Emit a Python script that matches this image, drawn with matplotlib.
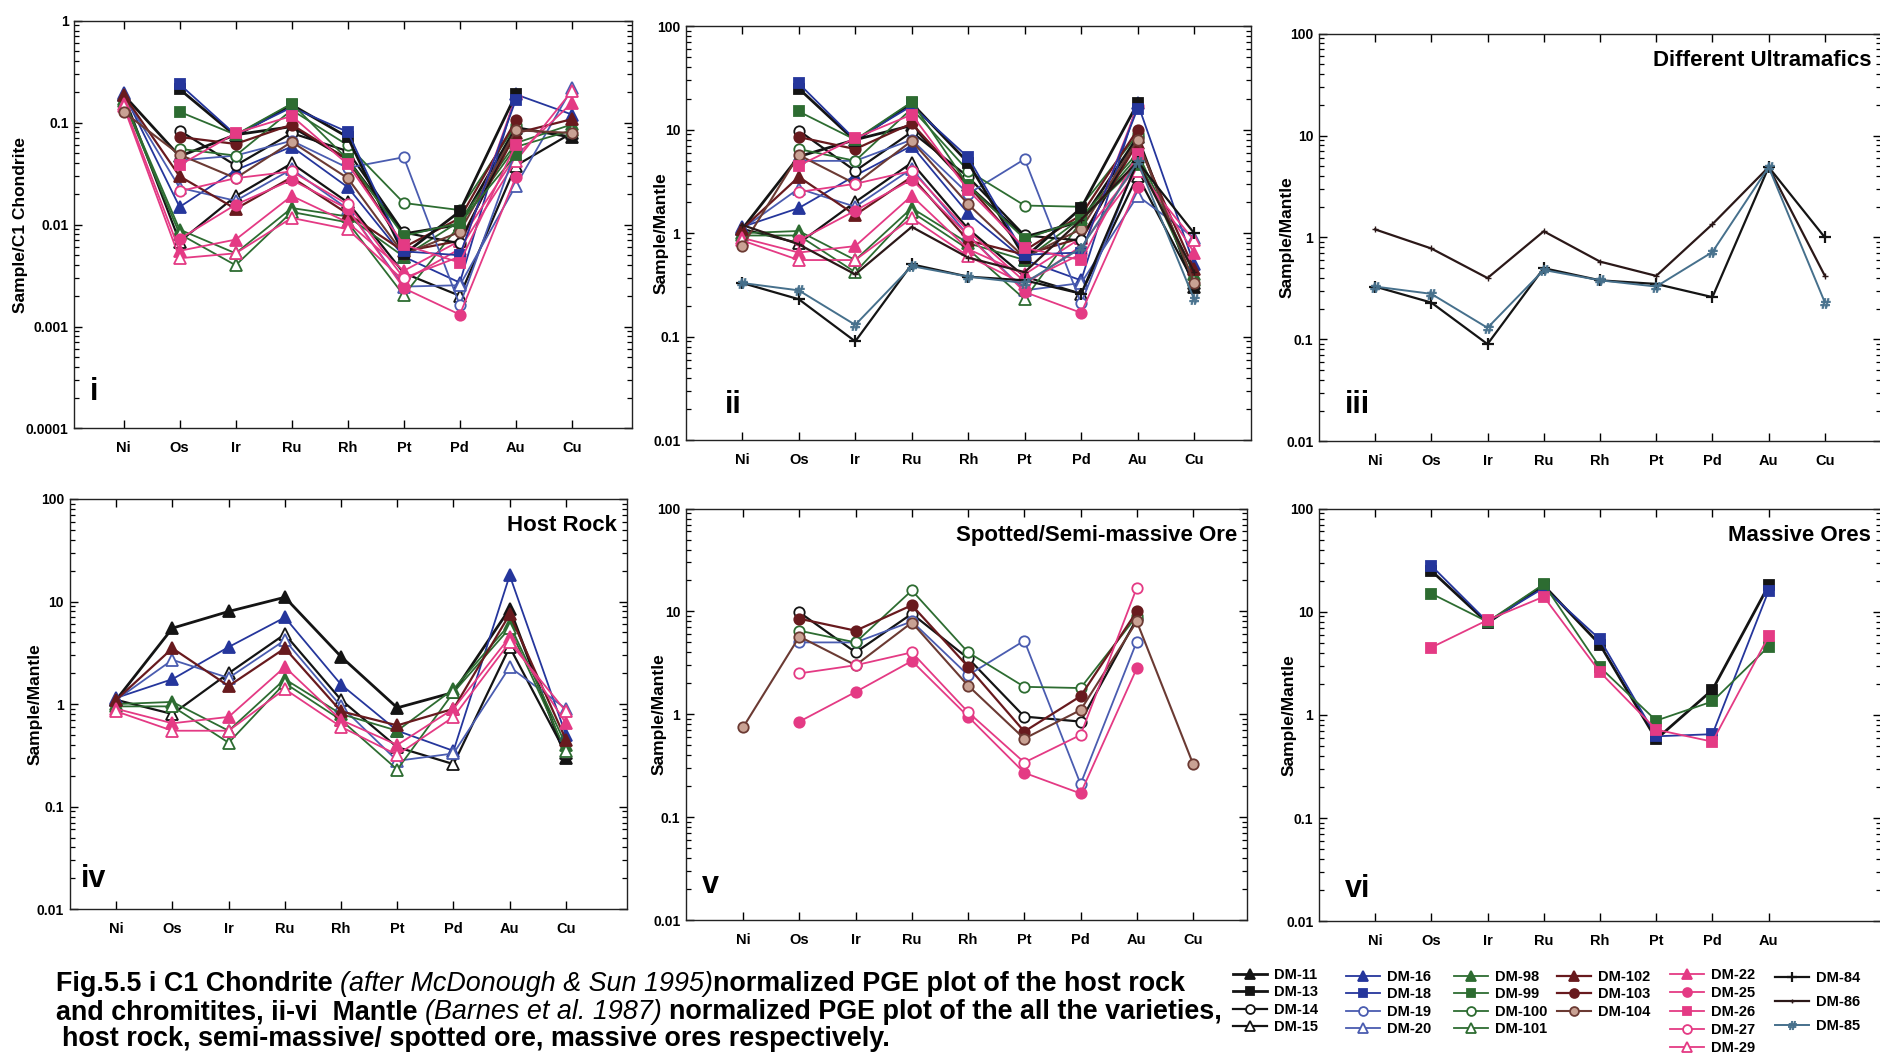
import numpy as np
import matplotlib
matplotlib.use("Agg")
import matplotlib.pyplot as plt
from matplotlib import font_manager
from matplotlib.ticker import FixedLocator, LogLocator, NullFormatter, FuncFormatter

plt.rcParams['font.family'] = ['Liberation Sans', 'DejaVu Sans']
plt.rcParams['font.weight'] = 'bold'

# ---------------- data (Sample/Mantle, Barnes et al. 1987) ----------------
elements = ['Ni', 'Os', 'Ir', 'Ru', 'Rh', 'Pt', 'Pd', 'Au', 'Cu']
n = np.nan

# host rock (triangles)
dm11 = [1.10, 5.5, 8.0, 11.0, 2.9, 0.92, 1.30, 8.5, 0.30]
dm15 = [1.10, 0.80, 2.0, 4.8, 1.10, 0.38, 0.26, 3.6, 0.33]
dm16 = [1.15, 1.75, 3.6, 7.0, 1.55, 0.55, 0.35, 18.0, 0.50]
dm20 = [1.10, 2.7, 1.8, 4.2, 0.95, 0.28, 0.33, 2.3, 0.90]
dm98 = [1.00, 1.05, 0.55, 1.75, 0.80, 0.55, 1.40, 6.0, 0.40]
dm101 = [0.95, 0.95, 0.42, 1.6, 0.70, 0.23, 1.30, 5.5, 0.35]
dm102 = [1.10, 3.5, 1.5, 3.5, 0.85, 0.62, 0.90, 7.5, 0.45]
dm22 = [0.90, 0.65, 0.75, 2.3, 0.70, 0.40, 0.90, 4.5, 0.65]
dm29 = [0.85, 0.55, 0.55, 1.4, 0.60, 0.32, 0.75, 4.0, 0.85]

# spotted / semi-massive ore (circles)
dm14 = [n, 9.8, 4.0, 9.5, 3.5, 0.95, 0.85, 8.5, n]
dm19 = [n, 5.0, 5.0, 8.0, 2.4, 5.2, 0.21, 5.1, n]
dm100 = [n, 6.5, 5.0, 16.0, 4.0, 1.85, 1.80, 9.0, n]
dm103 = [n, 8.5, 6.5, 11.5, 2.9, 0.68, 1.50, 10.0, n]
dm104 = [0.75, 5.7, 3.0, 7.8, 1.9, 0.58, 1.10, 8.0, 0.33]
dm25 = [n, 0.85, 1.65, 3.3, 0.95, 0.27, 0.17, 2.8, n]
dm27 = [n, 2.5, 3.0, 4.0, 1.05, 0.34, 0.63, 17.0, n]

# massive ores (squares)
dm13 = [n, 25.0, 7.8, 18.0, 4.8, 0.58, 1.75, 18.0, n]
dm18 = [n, 28.0, 8.0, 17.0, 5.4, 0.62, 0.65, 16.0, n]
dm99 = [n, 15.0, 8.0, 18.5, 2.9, 0.88, 1.35, 4.6, n]
dm26 = [n, 4.5, 8.3, 14.0, 2.6, 0.72, 0.55, 5.8, n]

# different ultramafics
dm84 = [0.33, 0.23, 0.09, 0.50, 0.38, 0.35, 0.26, 4.9, 1.00]
dm86 = [1.20, 0.78, 0.40, 1.15, 0.58, 0.42, 1.35, 4.9, 0.42]
dm85 = [0.33, 0.28, 0.13, 0.48, 0.38, 0.33, 0.72, 4.9, 0.23]

# mantle / C1 chondrite ratio per element (read from panels i vs ii)
mantle_to_c1 = [0.17, 0.0085, 0.0095, 0.0083, 0.015, 0.0088, 0.0077, 0.0105, 0.24]

data = {
    'DM-11': dm11, 'DM-13': dm13, 'DM-14': dm14, 'DM-15': dm15,
    'DM-16': dm16, 'DM-18': dm18, 'DM-19': dm19, 'DM-20': dm20,
    'DM-98': dm98, 'DM-99': dm99, 'DM-100': dm100, 'DM-101': dm101,
    'DM-102': dm102, 'DM-103': dm103, 'DM-104': dm104,
    'DM-22': dm22, 'DM-25': dm25, 'DM-26': dm26, 'DM-27': dm27, 'DM-29': dm29,
    'DM-84': dm84, 'DM-86': dm86, 'DM-85': dm85,
}

host = ['DM-11', 'DM-15', 'DM-16', 'DM-20', 'DM-98', 'DM-101', 'DM-102', 'DM-22', 'DM-29']
spotted = ['DM-14', 'DM-19', 'DM-100', 'DM-103', 'DM-104', 'DM-25', 'DM-27']
massive = ['DM-13', 'DM-18', 'DM-99', 'DM-26']
ultra = ['DM-84', 'DM-86', 'DM-85']

legend_cols = [
    ['DM-11', 'DM-13', 'DM-14', 'DM-15'],
    ['DM-16', 'DM-18', 'DM-19', 'DM-20'],
    ['DM-98', 'DM-99', 'DM-100', 'DM-101'],
    ['DM-102', 'DM-103', 'DM-104'],
    ['DM-22', 'DM-25', 'DM-26', 'DM-27', 'DM-29'],
    ['DM-84', 'DM-86', 'DM-85'],
]

# ---------------- styles ----------------
BLK = '#141414'
BLU = '#25369c'
BLU2 = '#4a5cb0'
GRN = '#2d6c31'
MAR = '#681a1e'
TANE = '#6b3a33'
TANF = '#c9a294'
PNK = '#e43a84'


def sty(c, m, filled, face=None, lw=1.3, ms=7.5, mew=1.3):
    if face is None:
        face = c if filled else 'white'
    return dict(color=c, marker=m, mfc=face, mec=c, lw=lw, ms=ms, mew=mew)


styles = {
    'DM-11': sty(BLK, '^', True, lw=2.0, ms=8.5),
    'DM-13': sty(BLK, 's', True, lw=2.0, ms=7),
    'DM-14': sty(BLK, 'o', False, lw=1.6),
    'DM-15': sty(BLK, '^', False, lw=1.6, ms=8.5),
    'DM-16': sty(BLU, '^', True, ms=8.5, lw=1.3),
    'DM-18': sty(BLU, 's', True, ms=7),
    'DM-19': sty(BLU2, 'o', False),
    'DM-20': sty(BLU2, '^', False, ms=8.5),
    'DM-98': sty(GRN, '^', True, ms=8.5),
    'DM-99': sty(GRN, 's', True, ms=7),
    'DM-100': sty(GRN, 'o', False),
    'DM-101': sty(GRN, '^', False, ms=8.5),
    'DM-102': sty(MAR, '^', True, ms=8.5, lw=1.6),
    'DM-103': sty(MAR, 'o', True, lw=1.6),
    'DM-104': sty(TANE, 'o', True, face=TANF, lw=1.5),
    'DM-22': sty(PNK, '^', True, ms=8.5),
    'DM-25': sty(PNK, 'o', True),
    'DM-26': sty(PNK, 's', True, ms=7),
    'DM-27': sty(PNK, 'o', False),
    'DM-29': sty(PNK, '^', False, ms=8.5),
    'DM-84': sty(BLK, '+', True, lw=1.6, ms=8, mew=1.6),
    'DM-86': sty('#2b1818', '+', True, lw=1.6, ms=4, mew=1.0),
    'DM-85': sty('#46708c', '$\\#$', True, lw=1.4, ms=7, mew=0.6),
}

# ---------------- figure ----------------
W, H = 1880, 1058
fig = plt.figure(figsize=(W / 100, H / 100), dpi=100)
fig.patch.set_facecolor('white')

panels = {
    'i':   dict(rect=[0.0395, 0.595, 0.2966, 0.3855], xlim=(-0.88, 9.07), ylim=(1e-4, 1),
                ylabel='Sample/C1 Chondrite', ylx=-0.083, names=host + spotted + massive, c1=True,
                title=None, rn=(0.028, 0.09)),
    'ii':  dict(rect=[0.3648, 0.584, 0.3004, 0.3912], xlim=(-1.0, 9.0), ylim=(0.01, 100),
                ylabel='Sample/Mantle', ylx=-0.03, names=host + spotted + massive + ultra, c1=False,
                title=None, rn=(0.07, 0.085)),
    'iii': dict(rect=[0.7015, 0.5828, 0.2991, 0.3855], xlim=(-1.0, 9.0), ylim=(0.01, 100),
                ylabel='Sample/Mantle', ylx=-0.043, names=ultra, c1=False,
                title='Different Ultramafics', rn=(0.047, 0.09)),
    'iv':  dict(rect=[0.037, 0.1406, 0.2966, 0.3878], xlim=(-0.83, 9.09), ylim=(0.01, 100),
                ylabel='Sample/Mantle', ylx=-0.049, names=host, c1=False,
                title='Host Rock', rn=(0.02, 0.073)),
    'v':   dict(rect=[0.3648, 0.1304, 0.2985, 0.3889], xlim=(-1.02, 8.96), ylim=(0.01, 100),
                ylabel='Sample/Mantle', ylx=-0.034, names=spotted, c1=False,
                title='Spotted/Semi-massive Ore', rn=(0.028, 0.085)),
    'vi':  dict(rect=[0.7015, 0.1293, 0.2991, 0.39], xlim=(-1.0, 9.0), ylim=(0.01, 100),
                ylabel='Sample/Mantle', ylx=-0.039, names=massive, c1=False,
                title='Massive Ores', rn=(0.047, 0.078)),
}

handles = {}
for key, p in panels.items():
    ax = fig.add_axes(p['rect'])
    ax.set_yscale('log')
    for nm in p['names']:
        vals = np.array(data[nm], dtype=float)
        if p['c1']:
            vals = vals * np.array(mantle_to_c1)
        st = styles[nm]
        h, = ax.plot(elements, vals, color=st['color'], marker=st['marker'],
                     markerfacecolor=st['mfc'], markeredgecolor=st['mec'],
                     markersize=st['ms'], markeredgewidth=st['mew'], lw=st['lw'],
                     label=nm, clip_on=False)
        if key == 'ii':
            handles[nm] = h
    ax.set_xlim(*p['xlim'])
    ax.set_ylim(*p['ylim'])
    if key == 'vi':
        ax.set_xticks(range(8))
    lo, hi = p['ylim']
    decades = [10.0 ** k for k in range(int(round(np.log10(lo))), int(round(np.log10(hi))) + 1)]
    ax.yaxis.set_major_locator(FixedLocator(decades))
    ax.yaxis.set_major_formatter(FuncFormatter(lambda v, pos: f'{v:g}'))
    ax.yaxis.set_minor_locator(LogLocator(base=10, subs=np.arange(2, 10), numticks=30))
    ax.yaxis.set_minor_formatter(NullFormatter())
    ax.tick_params(axis='x', which='both', direction='in', top=True, bottom=True,
                   length=6, width=1.0, pad=9, labelsize=10.5)
    ax.tick_params(axis='y', which='major', direction='in', left=True, right=True,
                   length=6, width=1.0, pad=4, labelsize=10)
    ax.tick_params(axis='y', which='minor', direction='in', left=True, right=True,
                   length=3.5, width=0.9)
    for lab in ax.get_xticklabels() + ax.get_yticklabels():
        lab.set_fontweight('bold')
    for s in ax.spines.values():
        s.set_linewidth(1.0)
        s.set_color('#222222')
    ax.set_ylabel(p['ylabel'], fontsize=12.5, fontweight='bold')
    ax.yaxis.set_label_coords(p['ylx'], 0.5)
    ax.text(p['rn'][0], p['rn'][1], key, transform=ax.transAxes, fontsize=22,
            fontweight='bold', ha='left', va='center')
    if p['title']:
        ax.text(0.982, 0.935, p['title'], transform=ax.transAxes, fontsize=16,
                fontweight='bold', ha='right', va='center')

# ---------------- legend (six column blocks) ----------------
leg_x = [1233, 1346, 1454, 1557, 1670, 1775]
leg_top = [968, 970, 970, 970, 968, 971]
leg_spacing = [0.23, 0.23, 0.23, 0.23, 0.30, 0.68]
for col, x, yt, sp in zip(legend_cols, leg_x, leg_top, leg_spacing):
    fig.legend([handles[nm] for nm in col], col, loc='upper left',
               bbox_to_anchor=(x / W, (H - yt) / H), bbox_transform=fig.transFigure,
               frameon=False, borderpad=0, borderaxespad=0, handlelength=2.3,
               handletextpad=0.5, labelspacing=sp, markerscale=0.85,
               prop=dict(size=10.5, weight='bold'))

# ---------------- caption with mixed styles ----------------
renderer = fig.canvas.get_renderer()
installed = {f.name for f in font_manager.fontManager.ttflist}
cap_family = ['Liberation Sans Narrow'] if 'Liberation Sans Narrow' in installed else ['Liberation Sans']
cap_family = cap_family + ['DejaVu Sans']


def text_width(s, size, weight, style):
    t = fig.text(0, 0, s, fontsize=size, fontweight=weight, fontstyle=style, family=cap_family)
    w = t.get_window_extent(renderer).width
    t.remove()
    return w


def space_width(size, weight, style):
    return text_width('a a', size, weight, style) - text_width('aa', size, weight, style)


cap_lines = [
    (56, 991, 1223, [('Fig.5.5 i C1 Chondrite', 'bold', 'normal', True),
                     ('(after McDonough & Sun 1995)', 'normal', 'italic', False),
                     ('normalized PGE plot of the host rock', 'bold', 'normal', False)]),
    (56, 1019, 1221, [('and chromitites, ii-vi  Mantle', 'bold', 'normal', True),
                      ('(Barnes et al. 1987)', 'normal', 'italic', True),
                      ('normalized PGE plot of the all the varieties,', 'bold', 'normal', False)]),
    (62, 1046, 893, [('host rock, semi-massive/ spotted ore, massive ores respectively.', 'bold', 'normal', False)]),
]


def line_width(segs, size):
    w = 0
    for s, wt, st, sp in segs:
        w += text_width(s, size, wt, st)
        if sp:
            w += space_width(size, wt, st)
    return w


base = 16.0
sizes = [base * (x1 - x0) / line_width(segs, base) for x0, yb, x1, segs in cap_lines]
cap_size = min(sizes)

for x0, yb, x1, segs in cap_lines:
    x = x0
    for s, wt, st, sp in segs:
        t = fig.text(x / W, (H - yb) / H, s, fontsize=cap_size, fontweight=wt,
                     fontstyle=st, ha='left', va='baseline', family=cap_family)
        x += t.get_window_extent(renderer).width
        if sp:
            x += space_width(cap_size, wt, st)

fig.savefig('out.png', dpi=100, facecolor='white')
